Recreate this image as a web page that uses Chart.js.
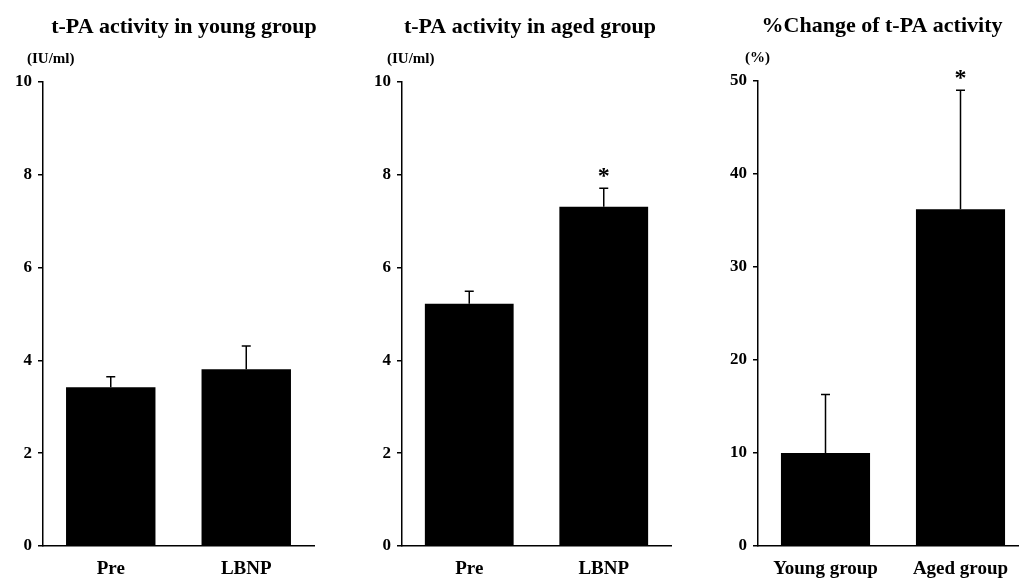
<!DOCTYPE html>
<html>
<head>
<meta charset="utf-8">
<script src="https://cdn.jsdelivr.net/npm/chart.js@4.4.0/dist/chart.umd.min.js"></script>
<style>
  html, body { margin: 0; padding: 0; background: #fff; overflow: hidden; }
  #wrap { position: relative; width: 1019px; height: 580px; overflow: hidden; }
  canvas { position: absolute; top: 0; }
</style>
</head>
<body>
<div id="wrap">
  <canvas id="young" width="340" height="580" style="left:0px"></canvas>
  <canvas id="aged" width="340" height="580" style="left:340px"></canvas>
  <canvas id="pct" width="350" height="580" style="left:680px"></canvas>
</div>
<script>
// young group, IU/ml
const youngLabels = ['Pre', 'LBNP'];
const youngMeans = [3.42, 3.81];
const youngErr = [0.23, 0.50];
const youngStars = [false, false];

// aged group, IU/ml
const agedLabels = ['Pre', 'LBNP'];
const agedMeans = [5.22, 7.31];
const agedErr = [0.27, 0.40];
const agedStars = [false, true];

// % change
const pctLabels = ['Young group', 'Aged group'];
const pctMeans = [10.0, 36.2];
const pctErr = [6.3, 12.8];
const pctStars = [false, true];

const FONT = '"Liberation Serif", "Times New Roman", serif';

// error bars, asterisks, titles and units
const extras = {
  id: 'extras',
  afterDatasetsDraw(chart, args, opts) {
    const ctx = chart.ctx;
    const x = chart.scales.x, y = chart.scales.y;
    const area = chart.chartArea;
    ctx.save();
    ctx.strokeStyle = '#000';
    ctx.fillStyle = '#000';
    ctx.lineWidth = 1.5;
    opts.means.forEach((m, i) => {
      const cx = x.getPixelForValue(i);
      const yBar = y.getPixelForValue(m);
      const yTop = y.getPixelForValue(m + opts.err[i]);
      ctx.beginPath();
      ctx.moveTo(cx, yBar);
      ctx.lineTo(cx, yTop);
      ctx.moveTo(cx - 4.5, yTop);
      ctx.lineTo(cx + 4.5, yTop);
      ctx.stroke();
      if (opts.stars[i]) {
        ctx.font = 'bold 24px ' + FONT;
        ctx.textAlign = 'center';
        ctx.textBaseline = 'alphabetic';
        ctx.fillText('*', cx, yTop - 5);
      }
    });
    ctx.textBaseline = 'middle';
    ctx.textAlign = 'center';
    ctx.font = 'bold 22px ' + FONT;
    ctx.fillText(opts.title, area.left + opts.titleX, area.top - 55);
    ctx.textAlign = 'left';
    ctx.font = 'bold 15px ' + FONT;
    ctx.fillText(opts.unit, area.left + opts.unitX, area.top - 23);
    ctx.restore();
  }
};

function makeChart(id, labels, means, err, stars, yMax, step, pad, title, titleX, unit, unitX) {
  const ctx = document.getElementById(id).getContext('2d');
  return new Chart(ctx, {
    type: 'bar',
    data: {
      labels: labels,
      datasets: [{
        data: means,
        backgroundColor: '#000',
        borderWidth: 0,
        barPercentage: 0.66,
        categoryPercentage: 1
      }]
    },
    options: {
      responsive: false,
      animation: false,
      layout: { padding: pad },
      plugins: {
        legend: { display: false },
        tooltip: { enabled: false },
        extras: { means: means, err: err, stars: stars, title: title, titleX: titleX, unit: unit, unitX: unitX }
      },
      scales: {
        x: {
          afterFit(s) { s.height = 34; },
          grid: { display: false, drawTicks: false },
          border: { display: true, color: '#000', width: 1.5 },
          ticks: {
            color: '#000',
            padding: 12,
            maxRotation: 0,
            autoSkip: false,
            font: { family: FONT, size: 19, weight: 'bold' }
          }
        },
        y: {
          min: 0,
          max: yMax,
          afterFit(s) { s.width = 40; },
          grid: { display: true, drawOnChartArea: false, drawTicks: true, tickLength: 5, color: '#000', lineWidth: 1.5 },
          border: { display: true, color: '#000', width: 1.5 },
          ticks: {
            stepSize: step,
            color: '#000',
            padding: 6,
            font: { family: FONT, size: 17, weight: 'bold' }
          }
        }
      }
    },
    plugins: [extras]
  });
}

makeChart('young', youngLabels, youngMeans, youngErr, youngStars, 10, 2,
  { top: 82, left: 3, right: 26, bottom: 0 }, 't-PA activity in young group', 141, '(IU/ml)', -16);
makeChart('aged', agedLabels, agedMeans, agedErr, agedStars, 10, 2,
  { top: 82, left: 22, right: 9, bottom: 0 }, 't-PA activity in aged group', 128, '(IU/ml)', -15);
makeChart('pct', pctLabels, pctMeans, pctErr, pctStars, 50, 10,
  { top: 81, left: 38, right: 2, bottom: 0 }, '%Change of t-PA activity', 124, '(%)', -13);
</script>
</body>
</html>
